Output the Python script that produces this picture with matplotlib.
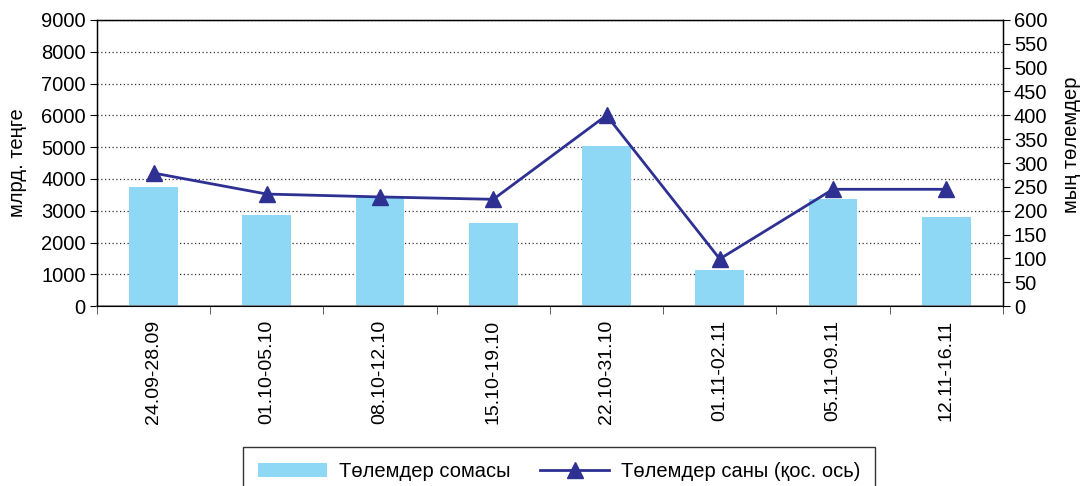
import numpy as np
import matplotlib.pyplot as plt
from matplotlib.ticker import MultipleLocator, FixedLocator

# data
periods = ['24.09-28.09', '01.10-05.10', '08.10-12.10', '15.10-19.10',
           '22.10-31.10', '01.11-02.11', '05.11-09.11', '12.11-16.11']
sums = [3750, 2860, 3430, 2610, 5030, 1130, 3360, 2800]      # млрд. теңге
counts = [279, 235, 229, 224, 400, 99, 245, 245]             # мың төлемдер

plt.rcParams['font.family'] = ['Liberation Sans', 'DejaVu Sans']
plt.rcParams['font.size'] = 14.5

bar_color = '#8ED8F6'
line_color = '#2E3192'

fig = plt.figure(figsize=(10.81, 4.86), dpi=100)
ax = fig.add_axes([0.0897, 0.370, 0.838, 0.589])
x = np.arange(len(periods))

bars = ax.bar(x, sums, width=0.43, color=bar_color, zorder=2,
              label='Төлемдер сомасы')
ax.set_xlim(-0.5, len(periods) - 0.5)
ax.set_ylim(0, 9000)
ax.yaxis.set_major_locator(MultipleLocator(1000))
ax.grid(axis='y', linestyle=(0, (1, 2)), color='#333333', linewidth=0.9, zorder=0)
ax.set_axisbelow(True)
ax.set_ylabel('млрд. теңге', labelpad=10)

ax.set_xticks(x)
ax.set_xticklabels(periods, rotation=90, fontsize=14)
ax.xaxis.set_minor_locator(FixedLocator(np.arange(-0.5, len(periods), 1.0)))
ax.tick_params(axis='x', which='major', length=0, pad=10)
ax.tick_params(axis='x', which='minor', length=6, color='#444444')
ax.tick_params(axis='y', length=5, direction='out', pad=3)

for s in ['top', 'left', 'right']:
    ax.spines[s].set_color('black')
    ax.spines[s].set_linewidth(1.0)
ax.spines['bottom'].set_color('#777777')
ax.spines['bottom'].set_linewidth(1.2)

ax2 = ax.twinx()
line, = ax2.plot(x, counts, color=line_color, linewidth=2, marker='^',
                 markersize=11, zorder=3, label='Төлемдер саны (қос. ось)')
ax2.set_ylim(0, 600)
ax2.yaxis.set_major_locator(MultipleLocator(50))
ax2.tick_params(axis='y', length=5, direction='out', pad=3)
ax2.set_ylabel('мың төлемдер')
ax2.yaxis.set_label_coords(1.065, 0.563)
ax2.spines['right'].set_color('black')

leg = fig.legend(handles=[bars, line], loc='upper left',
                 bbox_to_anchor=(243 / 1081, 1 - 447 / 486), ncol=2,
                 frameon=True, fancybox=False, edgecolor='black',
                 borderpad=0.75, borderaxespad=0, handlelength=3.4,
                 handletextpad=0.6, columnspacing=1.5, fontsize=14.5)
leg.get_frame().set_linewidth(1.0)

fig.savefig('out.png', dpi=100)
